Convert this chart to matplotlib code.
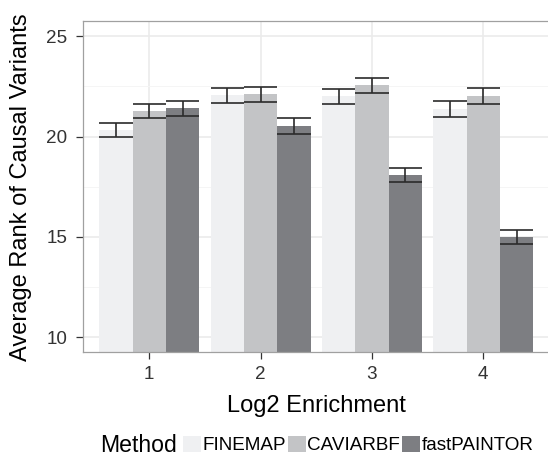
import numpy as np
import matplotlib
matplotlib.use("Agg")
from matplotlib import pyplot as plt
from matplotlib.patches import Patch

plt.rcParams['font.family'] = ['Liberation Sans', 'DejaVu Sans']

# data
enrichment = ['1', '2', '3', '4']
methods = ['FINEMAP', 'CAVIARBF', 'fastPAINTOR']
finemap = [20.33, 22.07, 22.02, 21.37]
caviarbf = [21.27, 22.12, 22.57, 22.02]
fastpaintor = [21.42, 20.53, 18.10, 15.00]
finemap_se = [0.35, 0.38, 0.38, 0.40]
caviarbf_se = [0.36, 0.37, 0.37, 0.39]
fastpaintor_se = [0.37, 0.38, 0.36, 0.35]
colors = ['#EFF0F2', '#C3C4C6', '#7D7E82']

W, H = 548, 457
fig = plt.figure(figsize=(W / 100, H / 100), dpi=100)
ax = fig.add_axes([82.5 / W, 1 - 352.3 / H, (550 - 82.5) / W, (352.3 - 21.3) / H])

x = np.arange(1, len(enrichment) + 1)
width = 0.3
series = [finemap, caviarbf, fastpaintor]
errors = [finemap_se, caviarbf_se, fastpaintor_se]
for i, (vals, se) in enumerate(zip(series, errors)):
    pos = x + (i - 1) * width
    vals = np.array(vals)
    se = np.array(se)
    ax.bar(pos, vals, width=width, color=colors[i], zorder=2)
    ax.vlines(pos, vals - se, vals + se, color='#2B2B2B', lw=1.2, zorder=3)
    ax.hlines(vals - se, pos - width / 2, pos + width / 2, color='#2B2B2B', lw=1.2, zorder=3)
    ax.hlines(vals + se, pos - width / 2, pos + width / 2, color='#2B2B2B', lw=1.2, zorder=3)

ax.set_xlim(0.4, 4.6)
ax.set_ylim(9.25, 25.75)
ax.set_xticks(x)
ax.set_xticklabels(enrichment)
ax.set_yticks([10, 15, 20, 25])
ax.set_yticks([12.5, 17.5, 22.5], minor=True)

ax.grid(True, which='major', color='#EBEBEB', lw=1.2, zorder=0)
ax.grid(True, which='minor', axis='y', color='#F5F5F5', lw=0.7, zorder=0)
ax.set_axisbelow(True)

for s in ax.spines.values():
    s.set_color('#A0A0A0')
    s.set_linewidth(0.9)
ax.spines['right'].set_visible(False)  # falls just outside the image

ax.tick_params(axis='both', which='major', length=4.8, width=0.9, color='#333333',
               labelsize=13.6, labelcolor='#333333')
ax.tick_params(axis='y', pad=6)
ax.tick_params(axis='x', pad=5)
ax.tick_params(which='minor', length=0)

ax.set_xlabel('Log2 Enrichment', fontsize=17, labelpad=8.5)
ax.set_ylabel('Average Rank of Causal Variants', fontsize=17, labelpad=10)

handles = [Patch(facecolor=c, edgecolor='none') for c in colors]
fig.legend(handles, methods, loc='center left', bbox_to_anchor=(183.2 / W, 1 - 445 / H),
           ncol=3, frameon=False, fontsize=13.6, handlelength=0.93, handleheight=1.0,
           handletextpad=0.1, columnspacing=0.1, borderpad=0, borderaxespad=0)
fig.text(100.3 / W, 1 - 445 / H, 'Method', fontsize=16.6, va='center', ha='left')

fig.savefig('out.png', dpi=100)
